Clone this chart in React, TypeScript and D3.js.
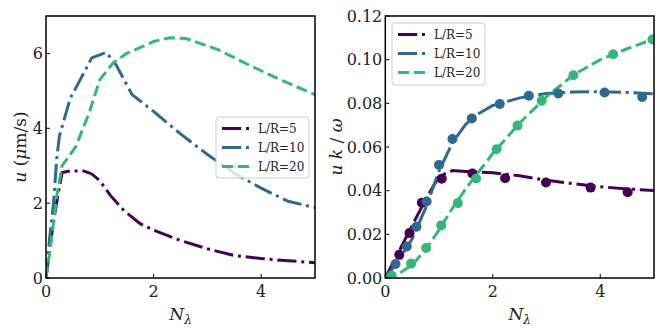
import React from "react";
import * as d3 from "d3";

// ---------- data ----------
const seriesNames = ["L/R=5", "L/R=10", "L/R=20"];
const colors = ["#440154", "#31688e", "#35b779"];

// left panel: u (um/s) vs N_lambda
const leftN5 = [0, 0.07, 0.15, 0.22, 0.3, 0.45, 0.7, 0.85, 1.0, 1.2, 1.45, 1.75, 2.0, 2.5, 3.0, 3.5, 4.0, 4.5, 5.0];
const leftU5 = [0, 0.8, 1.6, 2.2, 2.82, 2.86, 2.86, 2.78, 2.6, 2.2, 1.8, 1.45, 1.28, 1.0, 0.78, 0.6, 0.52, 0.46, 0.41];
const leftN10 = [0, 0.07, 0.14, 0.2, 0.25, 0.35, 0.45, 0.6, 0.85, 1.12, 1.3, 1.6, 2.0, 2.5, 3.0, 3.5, 4.0, 4.5, 5.0];
const leftU10 = [0, 1.1, 2.0, 3.2, 3.8, 4.3, 4.8, 5.2, 5.88, 6.03, 5.7, 4.9, 4.45, 3.85, 3.3, 2.8, 2.4, 2.05, 1.88];
const leftN20 = [0, 0.1, 0.2, 0.3, 0.55, 0.8, 1.0, 1.25, 1.5, 2.0, 2.3, 2.6, 3.2, 3.8, 4.4, 5.0];
const leftU20 = [0, 1.0, 2.2, 3.0, 3.5, 4.4, 5.3, 5.75, 6.0, 6.32, 6.42, 6.4, 6.1, 5.67, 5.27, 4.9];

// right panel: u k / omega vs N_lambda (lines)
const rightN = [0, 0.25, 0.5, 0.75, 1.0, 1.25, 1.5, 1.75, 2.0, 2.5, 3.0, 3.5, 4.0, 4.5, 5.0];
const rightLine5 = [0, 0.012, 0.024, 0.036, 0.0465, 0.0492, 0.0488, 0.0485, 0.0482, 0.0468, 0.0448, 0.0432, 0.0418, 0.0408, 0.0401];
const rightLine10 = [0, 0.008, 0.018, 0.032, 0.049, 0.062, 0.0705, 0.0755, 0.079, 0.0825, 0.0845, 0.0852, 0.0853, 0.085, 0.0843];
const rightLine20 = [0, 0.002, 0.006, 0.013, 0.022, 0.032, 0.041, 0.049, 0.057, 0.071, 0.083, 0.093, 0.1, 0.105, 0.1095];

// right panel: markers
const dotN5 = [0.26, 0.45, 0.68, 1.05, 1.62, 2.23, 2.99, 3.82, 4.51];
const dotV5 = [0.0106, 0.0206, 0.0345, 0.0455, 0.0479, 0.0457, 0.0437, 0.0414, 0.0393];
const dotN10 = [0.19, 0.4, 0.58, 0.77, 1.0, 1.25, 1.61, 2.13, 2.67, 3.22, 4.08, 4.78];
const dotV10 = [0.0064, 0.0144, 0.0235, 0.035, 0.0518, 0.0637, 0.0731, 0.0797, 0.0835, 0.0845, 0.085, 0.0829];
const dotN20 = [0.12, 0.48, 0.76, 1.04, 1.35, 1.69, 2.07, 2.46, 2.91, 3.5, 4.24, 4.97];
const dotV20 = [0.001, 0.0066, 0.0137, 0.0241, 0.0343, 0.0456, 0.059, 0.0698, 0.0812, 0.0929, 0.1025, 0.1092];

const xTicks = [0, 2, 4];
const leftYTicks = [0, 2, 4, 6];
const rightYTicks = [0, 0.02, 0.04, 0.06, 0.08, 0.1, 0.12];

// ---------- styles ----------
const FONT = "'DejaVu Serif', 'Liberation Serif', serif";
const LW = 3;
const dashDot = `${6.4 * LW},${1.6 * LW},${1 * LW},${1.6 * LW}`;
const dashed = `${3.7 * LW},${1.6 * LW}`;
const dashes = [dashDot, dashDot, dashed];

const W = 664, H = 332;
const top = 16, bottom = 278;

function zip(xs: number[], ys: number[]): [number, number][] {
  return xs.map((x, i) => [x, ys[i]]);
}

type PanelProps = {
  id: string;
  x0: number;
  x1: number;
  yMax: number;
  yTicks: number[];
  yFmt: (v: number) => string;
  lines: [number, number][][];
  dots?: [number, number][][];
  legend: { x: number; y: number; w: number; h: number };
  ylabel: React.ReactNode;
  ylabelX: number;
};

function Panel(p: PanelProps) {
  const x = d3.scaleLinear().domain([0, 5]).range([p.x0, p.x1]);
  const y = d3.scaleLinear().domain([0, p.yMax]).range([bottom, top]);
  const line = d3.line<[number, number]>().x((d) => x(d[0])).y((d) => y(d[1]));
  const rowH = 19;
  return (
    <g>
      <defs>
        <clipPath id={p.id}>
          <rect x={p.x0} y={top} width={p.x1 - p.x0} height={bottom - top} />
        </clipPath>
      </defs>
      <g clipPath={`url(#${p.id})`}>
        {p.lines.map((d, i) => (
          <path key={i} d={line(d) || ""} fill="none" stroke={colors[i]} strokeWidth={LW} strokeDasharray={dashes[i]} />
        ))}
        {p.dots &&
          p.dots.map((ds, i) =>
            ds.map((d, j) => <circle key={`${i}-${j}`} cx={x(d[0])} cy={y(d[1])} r={5} fill={colors[i]} />)
          )}
      </g>
      {/* ticks */}
      {xTicks.map((t) => (
        <g key={"xt" + t}>
          <line x1={x(t)} x2={x(t)} y1={bottom} y2={bottom - 4} stroke="black" strokeWidth={1} />
          <text x={x(t)} y={297} fontFamily={FONT} fontSize={16} textAnchor="middle" fill="#222">
            {t}
          </text>
        </g>
      ))}
      {p.yTicks.map((t) => (
        <g key={"yt" + t}>
          <line x1={p.x0} x2={p.x0 + 4} y1={y(t)} y2={y(t)} stroke="black" strokeWidth={1} />
          <text x={p.x0 - 3} y={y(t)} dy="0.36em" fontFamily={FONT} fontSize={16} textAnchor="end" fill="#222">
            {p.yFmt(t)}
          </text>
        </g>
      ))}
      <rect x={p.x0} y={top} width={p.x1 - p.x0} height={bottom - top} fill="none" stroke="black" strokeWidth={1.5} />
      {/* legend */}
      <rect
        x={p.legend.x}
        y={p.legend.y}
        width={p.legend.w}
        height={p.legend.h}
        rx={3}
        fill="white"
        fillOpacity={0.8}
        stroke="#cccccc"
        strokeWidth={1}
      />
      {seriesNames.map((s, i) => {
        const cy = p.legend.y + 11.5 + i * rowH;
        return (
          <g key={s}>
            <line
              x1={p.legend.x + 6}
              x2={p.legend.x + 34}
              y1={cy}
              y2={cy}
              stroke={colors[i]}
              strokeWidth={LW}
              strokeDasharray={dashes[i]}
            />
            <text x={p.legend.x + 42} y={cy} dy="0.36em" fontFamily={FONT} fontSize={12} fill="#222">
              {s}
            </text>
          </g>
        );
      })}
      {/* axis labels */}
      <text x={(p.x0 + p.x1) / 2} y={320} fontFamily={FONT} fontSize={17} textAnchor="middle" fill="#222">
        <tspan fontStyle="italic">N</tspan>
        <tspan fontStyle="italic" fontSize={12} dy={4}>
          λ
        </tspan>
      </text>
      <text
        transform={`translate(${p.ylabelX},${(top + bottom) / 2}) rotate(-90)`}
        fontFamily={FONT}
        fontSize={17}
        textAnchor="middle"
        dy="0.35em"
        fill="#222"
      >
        {p.ylabel}
      </text>
    </g>
  );
}

export default function App() {
  return (
    <svg width={W} height={H} style={{ position: "absolute", left: 0, top: 0, background: "white" }}>
      <rect width={W} height={H} fill="white" />
      <Panel
        id="clipL"
        x0={46}
        x1={315}
        yMax={7}
        yTicks={leftYTicks}
        yFmt={(v) => String(v)}
        lines={[zip(leftN5, leftU5), zip(leftN10, leftU10), zip(leftN20, leftU20)]}
        legend={{ x: 216, y: 117, w: 93, h: 61 }}
        ylabel={
          <>
            <tspan fontStyle="italic">u</tspan>
            <tspan> (</tspan>
            <tspan fontStyle="italic">μ</tspan>
            <tspan>m/s)</tspan>
          </>
        }
        ylabelX={20}
      />
      <Panel
        id="clipR"
        x0={385.3}
        x1={654}
        yMax={0.12}
        yTicks={rightYTicks}
        yFmt={d3.format(".2f")}
        lines={[zip(rightN, rightLine5), zip(rightN, rightLine10), zip(rightN, rightLine20)]}
        dots={[zip(dotN5, dotV5), zip(dotN10, dotV10), zip(dotN20, dotV20)]}
        legend={{ x: 392, y: 23, w: 93, h: 62 }}
        ylabel={
          <>
            <tspan fontStyle="italic">u</tspan>
            <tspan> </tspan>
            <tspan fontStyle="italic">k</tspan>
            <tspan> / </tspan>
            <tspan fontStyle="italic">ω</tspan>
          </>
        }
        ylabelX={336}
      />
    </svg>
  );
}
